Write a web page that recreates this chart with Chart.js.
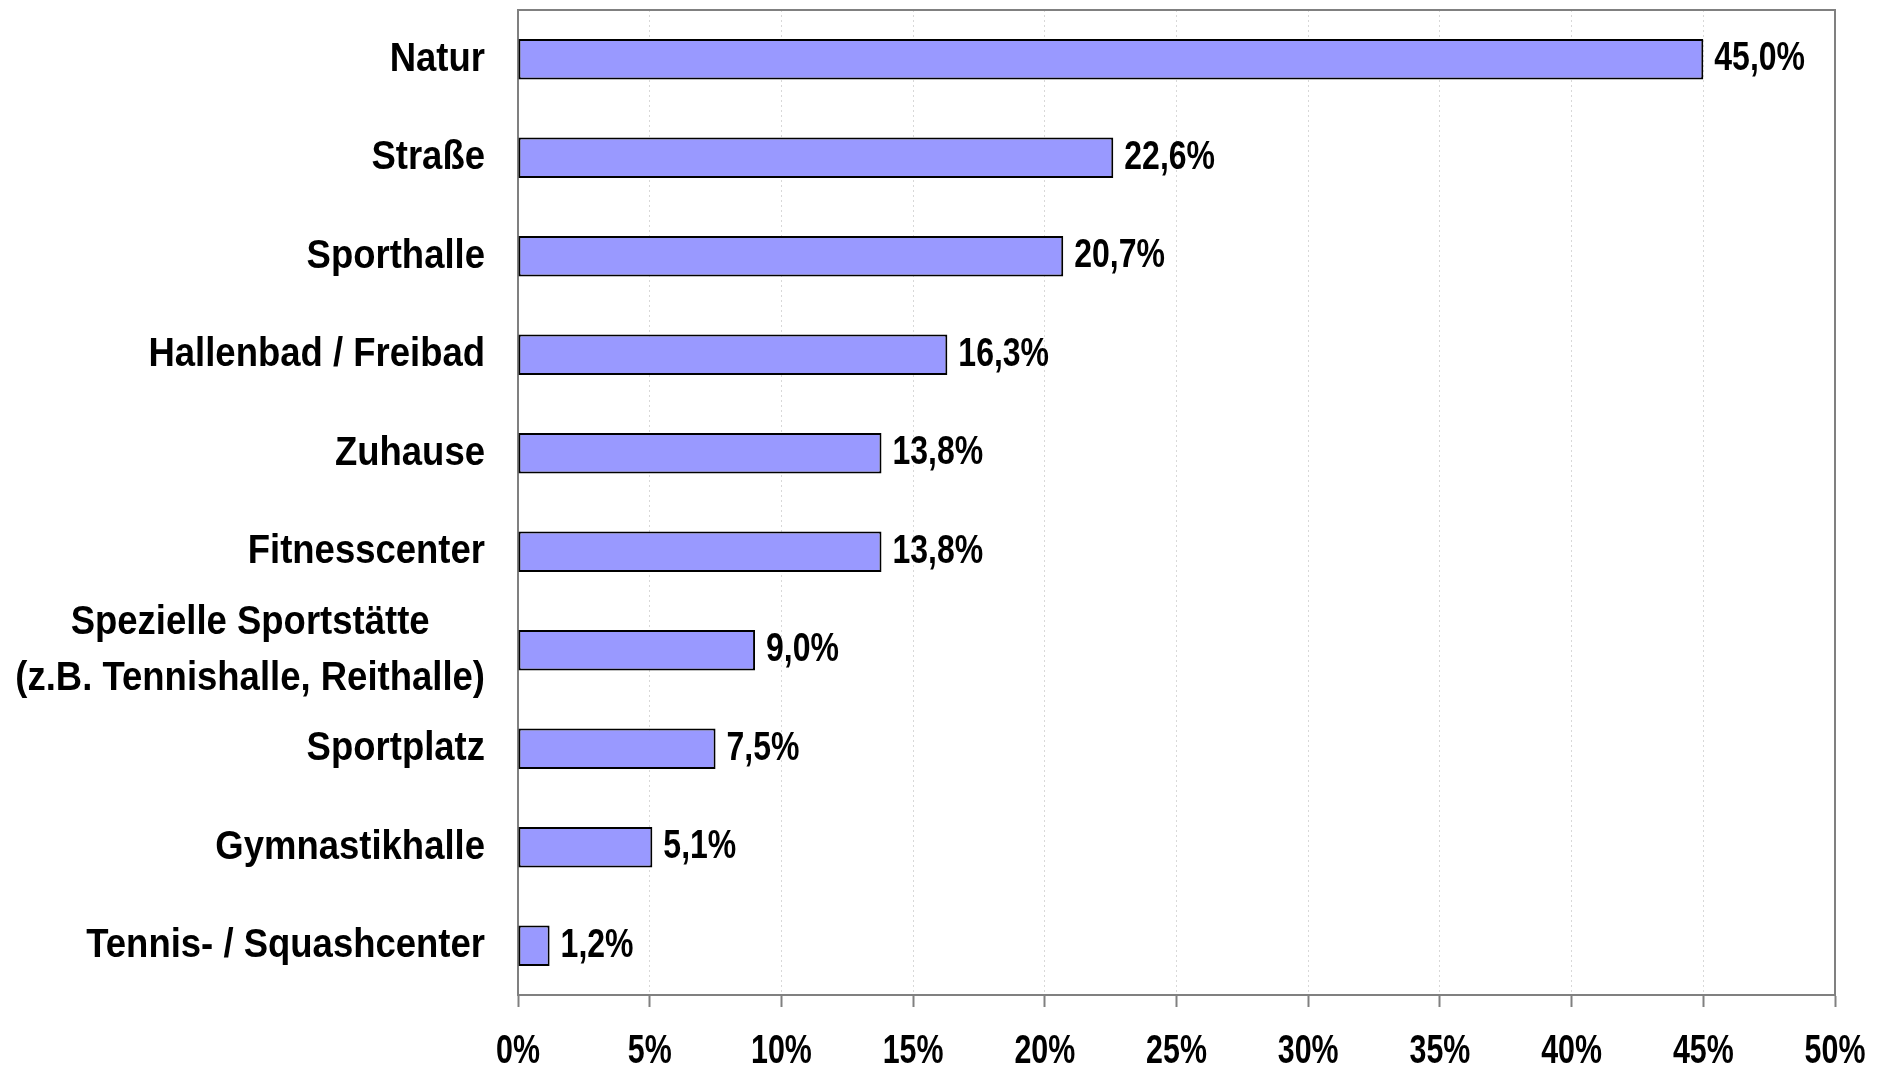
<!DOCTYPE html>
<html lang="de">
<head>
<meta charset="utf-8">
<title>Sportstätten</title>
<script src="https://cdn.jsdelivr.net/npm/chart.js@4.4.1/dist/chart.umd.min.js"></script>
<style>
    html, body { margin: 0; padding: 0; background: #fff; }
    #wrap { width: 1884px; height: 1068px; position: relative; }
</style>
</head>
<body>
<div id="wrap"><canvas id="chartSport"></canvas></div>
<script>
const kategorien = [
    'Natur',
    'Straße',
    'Sporthalle',
    'Hallenbad / Freibad',
    'Zuhause',
    'Fitnesscenter',
    ['Spezielle Sportstätte', '(z.B. Tennishalle, Reithalle)'],
    'Sportplatz',
    'Gymnastikhalle',
    'Tennis- / Squashcenter'
];
const anteile = [45.0, 22.6, 20.7, 16.3, 13.8, 13.8, 9.0, 7.5, 5.1, 1.2];
const achseMax = 50;
const achseSchritt = 5;

const schrift = "'Liberation Sans', Arial, sans-serif";
const grau = '#808080';

function formatProzent(v) {
    return v.toFixed(1).replace('.', ',') + '%';
}

// kein Narrow-Font vorhanden -> Text horizontal stauchen
function textSchmal(ctx, text, x, y, sx, align) {
    ctx.save();
    ctx.translate(x, y);
    ctx.scale(sx, 1);
    ctx.textAlign = align;
    ctx.fillText(text, 0, 0);
    ctx.restore();
}

// Kategorien links: Block rechtsbündig, Zeilen zentriert
const kategorienPlugin = {
    id: 'kategorien',
    afterDraw(chart) {
        const ctx = chart.ctx;
        const y = chart.scales.y;
        const rechts = y.right - 33;
        const zeilenHoehe = 56;
        const sx = 0.89;
        ctx.save();
        ctx.font = 'bold 41px ' + schrift;
        ctx.fillStyle = '#000';
        ctx.textBaseline = 'middle';
        kategorien.forEach((k, i) => {
            const zeilen = Array.isArray(k) ? k : [k];
            const breite = Math.max(...zeilen.map(z => ctx.measureText(z).width)) * sx;
            const mitte = y.getPixelForValue(i);
            const start = mitte - (zeilen.length - 1) * zeilenHoehe / 2;
            zeilen.forEach((z, j) => {
                textSchmal(ctx, z, rechts - breite / 2, start + j * zeilenHoehe, sx, 'center');
            });
        });
        ctx.restore();
    }
};

// Werte rechts neben den Balken
const wertePlugin = {
    id: 'werte',
    afterDatasetsDraw(chart) {
        const ctx = chart.ctx;
        const x = chart.scales.x;
        const y = chart.scales.y;
        ctx.save();
        ctx.font = 'bold 40px ' + schrift;
        ctx.fillStyle = '#000';
        ctx.textBaseline = 'middle';
        anteile.forEach((v, i) => {
            textSchmal(ctx, formatProzent(v), x.getPixelForValue(v) + 11, y.getPixelForValue(i), 0.8, 'left');
        });
        ctx.restore();
    }
};

// Achsenbeschriftung unten (schmal)
const achsenPlugin = {
    id: 'achse',
    afterDraw(chart) {
        const ctx = chart.ctx;
        const x = chart.scales.x;
        ctx.save();
        ctx.font = 'bold 40px ' + schrift;
        ctx.fillStyle = '#000';
        ctx.textBaseline = 'alphabetic';
        x.ticks.forEach(t => {
            textSchmal(ctx, t.value + '%', x.getPixelForValue(t.value), x.top + 68, 0.76, 'center');
        });
        ctx.restore();
    }
};

// Rahmen oben und rechts
const rahmenPlugin = {
    id: 'rahmen',
    afterDraw(chart) {
        const a = chart.chartArea;
        const ctx = chart.ctx;
        ctx.save();
        ctx.strokeStyle = grau;
        ctx.lineWidth = 2;
        ctx.beginPath();
        ctx.moveTo(a.left, a.top);
        ctx.lineTo(a.right, a.top);
        ctx.lineTo(a.right, a.bottom);
        ctx.stroke();
        ctx.restore();
    }
};

const ctx = document.getElementById('chartSport').getContext('2d');
new Chart(ctx, {
    type: 'bar',
    data: {
        labels: kategorien,
        datasets: [{
            data: anteile,
            backgroundColor: '#9999ff',
            borderColor: '#000000',
            borderWidth: 2,
            borderSkipped: false,
            barPercentage: 0.41,
            categoryPercentage: 1.0
        }]
    },
    options: {
        indexAxis: 'y',
        responsive: true,
        maintainAspectRatio: false,
        devicePixelRatio: 1,
        animation: false,
        layout: { padding: { top: 10, right: 49, bottom: 0, left: 0 } },
        plugins: {
            legend: { display: false },
            tooltip: { enabled: false }
        },
        scales: {
            x: {
                min: 0,
                max: achseMax,
                ticks: {
                    stepSize: achseSchritt,
                    display: false
                },
                grid: {
                    color: '#d8d8d8',
                    lineWidth: 1,
                    tickColor: grau,
                    tickWidth: 2,
                    tickLength: 12,
                    tickBorderDash: []
                },
                border: { display: true, color: grau, width: 2, dash: [2, 3] },
                afterFit(scale) { scale.height = 73; }
            },
            y: {
                ticks: { display: false },
                grid: { display: false },
                border: { display: true, color: grau, width: 2 },
                afterFit(scale) { scale.width = 518; }
            }
        }
    },
    plugins: [kategorienPlugin, wertePlugin, achsenPlugin, rahmenPlugin]
});
</script>
</body>
</html>
